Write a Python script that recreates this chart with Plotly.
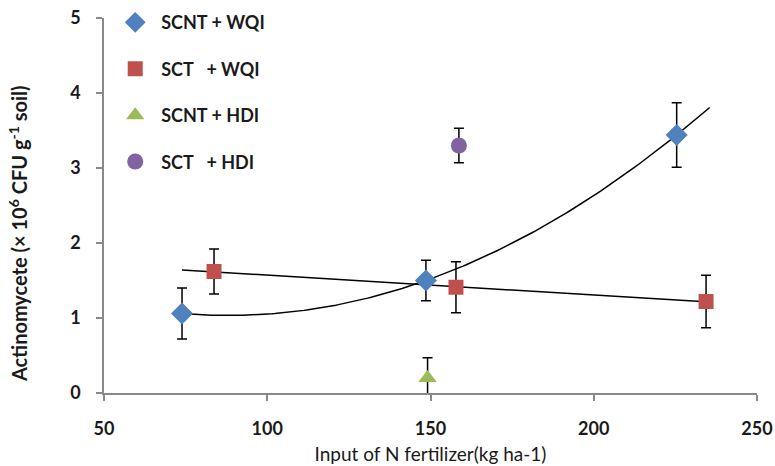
import numpy as np
import plotly.graph_objects as go

# Data
scnt_wqi_x = [73.9, 148.6, 225.4]
scnt_wqi_y = [1.06, 1.50, 3.44]
scnt_wqi_err = [0.34, 0.27, 0.43]

sct_wqi_x = [83.7, 157.8, 234.4]
sct_wqi_y = [1.62, 1.41, 1.22]
sct_wqi_err = [0.30, 0.34, 0.35]

scnt_hdi_x = [149.1]
scnt_hdi_y = [0.20]
scnt_hdi_err = [0.27]

sct_hdi_x = [158.7]
sct_hdi_y = [3.30]
sct_hdi_err = [0.23]

x_ticks = [50, 100, 150, 200, 250]
y_ticks = [0, 1, 2, 3, 4, 5]

trend_start, trend_end = 73.9, 235.5

FONT = "Lato"
TXT = "#1a1a1a"
fig = go.Figure()

def add(name, x, y, err, color, symbol, size):
    fig.add_trace(go.Scatter(
        x=x, y=y, mode="markers", name=name, legendgroup=name,
        marker=dict(color=color, symbol=symbol, size=size, line=dict(width=0)),
        error_y=dict(type="data", array=err, visible=True, color="black",
                     thickness=1.5, width=5),
    ))

# Trendlines (computed from data)
xx = np.linspace(trend_start, trend_end, 200)
p_blue = np.polyfit(scnt_wqi_x, scnt_wqi_y, 2)
p_red = np.polyfit(sct_wqi_x, sct_wqi_y, 1)
fig.add_trace(go.Scatter(x=xx, y=np.polyval(p_blue, xx), mode="lines",
                         line=dict(color="black", width=1.5), showlegend=False, hoverinfo="skip"))
fig.add_trace(go.Scatter(x=xx, y=np.polyval(p_red, xx), mode="lines",
                         line=dict(color="black", width=1.5), showlegend=False, hoverinfo="skip"))

add("SCNT + WQI", scnt_wqi_x, scnt_wqi_y, scnt_wqi_err, "#4F81BD", "diamond", 17)
add("SCT\u00a0\u00a0\u00a0+ WQI", sct_wqi_x, sct_wqi_y, sct_wqi_err, "#C0504D", "square", 15)
add("SCNT + HDI", scnt_hdi_x, scnt_hdi_y, scnt_hdi_err, "#9BBB59", "triangle-up", 16)
add("SCT\u00a0\u00a0\u00a0+ HDI", sct_hdi_x, sct_hdi_y, sct_hdi_err, "#8064A2", "circle", 16)

axis_common = dict(showgrid=False, zeroline=False, showline=True, linecolor="#898989",
                   linewidth=1.5, ticks="outside", tickcolor="#898989", ticklen=6,
                   tickwidth=1.5, automargin=False,
                   tickfont=dict(family=FONT, size=18, color=TXT, weight="bold"))

fig.update_layout(
    width=775, height=466,
    margin=dict(l=104, r=18, t=18, b=73, autoexpand=False),
    plot_bgcolor="white", paper_bgcolor="white",
    font=dict(family=FONT, color=TXT),
    xaxis=dict(range=[50, 250], tickvals=x_ticks, ticklabelstandoff=13,
               title=dict(text="Input of N fertilizer(kg ha-1)", standoff=9,
                          font=dict(family=FONT, size=19, color=TXT)),
               **axis_common),
    yaxis=dict(range=[0, 5], tickvals=y_ticks, ticklabelstandoff=12,
               **axis_common),
    showlegend=True,
    legend=dict(x=0.008, y=1.037, xanchor="left", yanchor="top",
                bgcolor="rgba(0,0,0,0)", traceorder="grouped", tracegroupgap=20,
                font=dict(family=FONT, size=18, color=TXT, weight="bold"),
                itemsizing="trace", itemwidth=42),
    annotations=[dict(
        text="Actinomycete (× 10<sup>6</sup> CFU g<sup>-1</sup> soil)",
        xref="paper", yref="paper", x=-86 / 653, y=(393 - 234) / 375,
        xanchor="center", yanchor="middle", textangle=-90, showarrow=False,
        font=dict(family=FONT, size=20, color=TXT, weight="bold"))],
)

fig.write_html("out.html")
